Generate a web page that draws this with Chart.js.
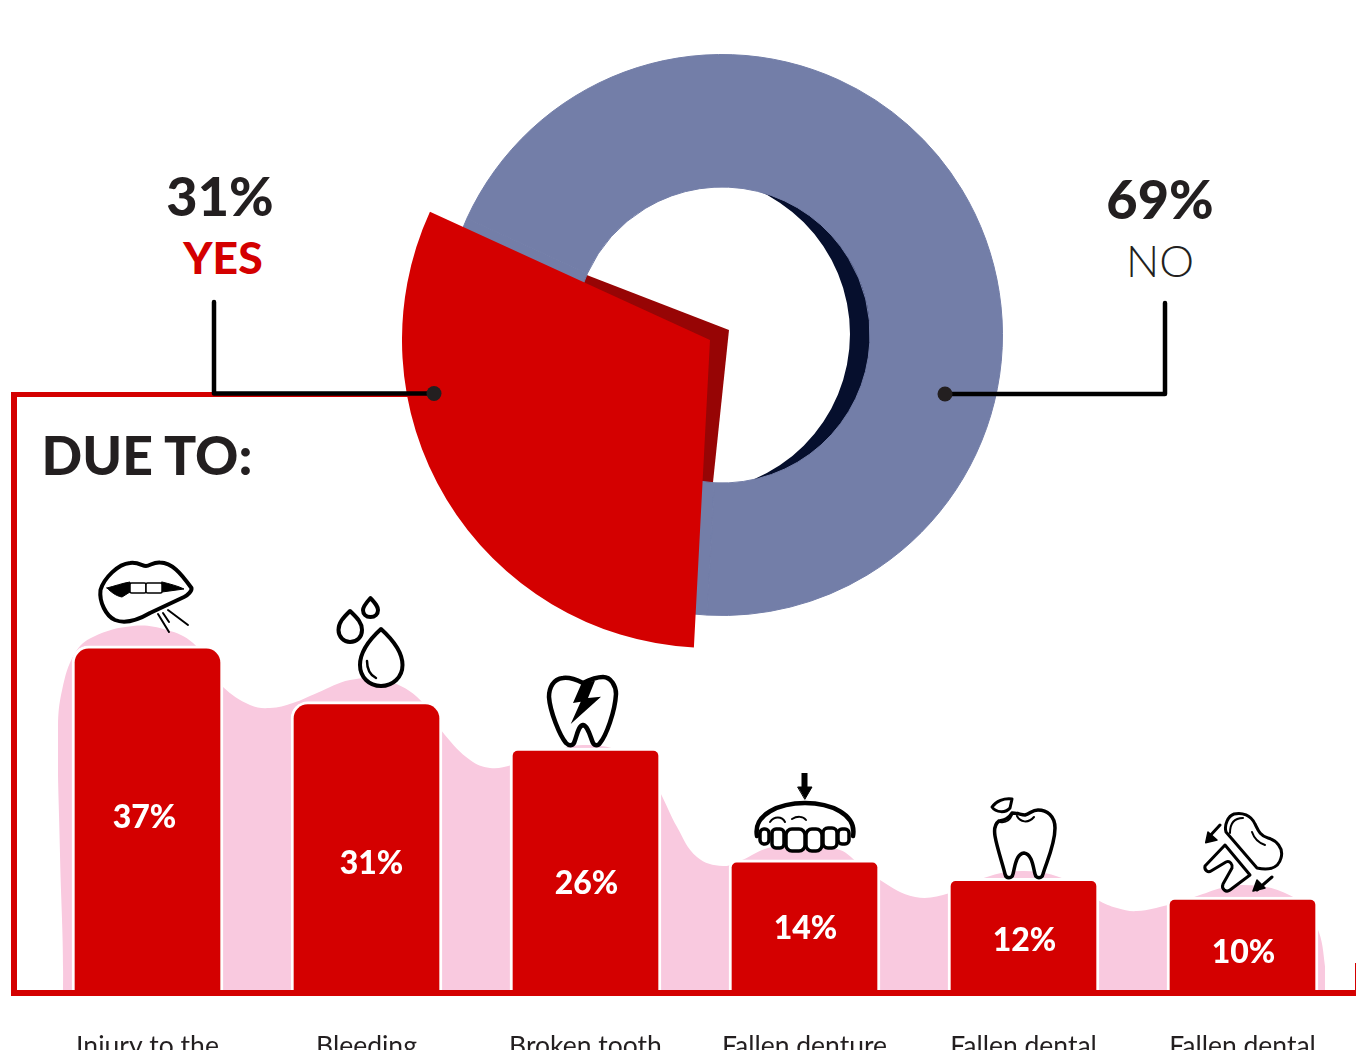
<!DOCTYPE html>
<html>
<head>
<meta charset="utf-8">
<title>Due to</title>
<script src="https://cdn.jsdelivr.net/npm/chart.js@4"></script>
<style>
    html, body { margin: 0; padding: 0; background: #fff; }
    body { position: relative; width: 1356px; height: 1050px; overflow: hidden; font-family: Lato, sans-serif; }
    canvas { position: absolute; }
    .frame { position: absolute; background: #d40000; }
    .note { position: absolute; transform: translate(-50%, -50%); line-height: 1; white-space: nowrap; color: #231f20; font-weight: 900; }
    #overlay { position: absolute; left: 0; top: 0; z-index: 20; }
</style>
</head>
<body>

<div class="frame" style="left:11px;top:392px;width:6px;height:604px"></div>
<div class="frame" style="left:11px;top:392px;width:420px;height:5px"></div>
<div class="frame" style="left:11px;top:990px;width:1345px;height:6px"></div>
<div class="frame" style="left:1355px;top:963px;width:1px;height:27px"></div>

<div class="note" style="left:220px;top:196px;font-size:54px">31%</div>
<div class="note" style="left:223px;top:257px;font-size:44.500px;color:#d40000">YES</div>
<div class="note" style="left:1160px;top:199px;font-size:54px">69%</div>
<div class="note" style="left:1160px;top:260px;font-size:44px;font-weight:300">NO</div>
<div class="note" style="left:147px;top:455px;font-size:53.500px">DUE TO:</div>

<svg id="overlay" width="1356" height="1050" fill="none" stroke="#000" stroke-width="4" stroke-linecap="round" stroke-linejoin="round">
    <!-- leader lines -->
    <path d="M214 302V393.500H434" stroke-width="4.500"/>
    <circle cx="434" cy="393.500" r="7.500" fill="#231f20" stroke="none"/>
    <path d="M945 394H1165V303" stroke-width="4.500"/>
    <circle cx="945" cy="394" r="7.500" fill="#231f20" stroke="none"/>

    <!-- lips -->
    <path d="M191.500 588C180 572 172 563 160 562.500C153 562 150 566 146 566C142 566 139 562 130 563C118 564 104 578 100.500 590C99 602 106 616 115 620C125 624 138 620 150 613L184 597C188 595 192 591 191.500 588Z" fill="#fff"/>
    <path d="M107 588C115 586 123 583 130 582V592L122 597C116 596 111 592 107 588ZM162 582C170 584 178 586 184 589L162 592Z" fill="#000" stroke="#000" stroke-width="1"/>
    <rect x="130" y="583" width="16" height="10" rx="1.500" fill="#fff" stroke-width="1.500"/>
    <rect x="146" y="583" width="16" height="10" rx="1.500" fill="#fff" stroke-width="1.500"/>
    <path d="M158 614L169 632M163 613L169 622M168 610L188 625" stroke-width="2"/>

    <!-- drops -->
    <path d="M370.500 598C366 603 363 607 363 610C363 614 366 617 370.500 617C375 617 378 614 378 610C378 606 375 603 370.500 598Z" fill="#fff"/>
    <path d="M350 611C344 617 338.500 622 338.500 630C338.500 637 344 642 350 642C357 642 362 637 362 630C362 622 356 617 350 611Z" fill="#fff"/>
    <path d="M381 629C370 639 360 652 360 665C360 677 369 686 381 686C393 686 402.500 677 402.500 665C402.500 652 392 639 381 629Z" fill="#fff"/>
    <path d="M367 661C367 669 370 675 376 678" stroke-width="2.500"/>

    <!-- tooth with lightning -->
    <path d="M583 683C577 680 570 677 563 678C553 679 549 688 549 697C550 712 560 736 566 743C569 746 572 746 574 743C577 736 578 726 583 725C588 726 590 736 593 743C595 746 598 746 600 743C606 736 615 712 616 694C616 686 611 677 603 677C596 677 589 680 583 683Z" fill="#fff" stroke-width="4.500"/>
    <path d="M581.700 683L595 680.700L588 698L601 696.700L570.700 724L580.700 701.700L573 703Z" fill="#000" stroke="none"/>

    <!-- denture -->
    <path d="M804.500 773V788" stroke-width="6" stroke-linecap="butt"/>
    <path d="M798 787H812L805 799Z" fill="#000" stroke="#000" stroke-width="1"/>
    <path d="M757 836C753 814 780 803 805 803C830 803 857 814 853 836" fill="#fff" stroke-width="4.500"/>
    <path d="M770 822C774 816 782 816 785 822M792 819C797 816 803 816 806 820" stroke-width="2"/>
    <rect x="760" y="829" width="9" height="15" rx="4" fill="#fff" stroke-width="3.500"/>
    <rect x="772" y="829" width="12" height="19" rx="4" fill="#fff" stroke-width="3.500"/>
    <rect x="786" y="829" width="19" height="22" rx="6" fill="#fff" stroke-width="3.500"/>
    <rect x="806" y="829" width="16" height="22" rx="6" fill="#fff" stroke-width="3.500"/>
    <rect x="823" y="828" width="14" height="20" rx="5" fill="#fff" stroke-width="3.500"/>
    <rect x="838" y="829" width="11" height="15" rx="4" fill="#fff" stroke-width="3.500"/>

    <!-- chipped tooth -->
    <path d="M1012 813C1008 820 1003 820 999 821C995 824 994 830 995 836C997 848 1003 865 1005 874C1006 879 1012 879 1013 874C1015 866 1016 854 1024 853C1032 854 1033 866 1035 874C1036 879 1042 879 1043 874C1046 863 1055 845 1055 828C1055 816 1047 810 1038 810C1032 810 1030 814 1025 815C1021 815 1018 813 1012 813Z" fill="#fff" stroke-width="3.500"/>
    <path d="M1000 822C1006 823 1010 820 1012 815M1017 816C1020 822 1028 824 1034 817" stroke-width="2"/>
    <path d="M1012 799C1004 798 996 801 992 807C996 813 1006 813 1010 808Z" fill="#fff" stroke-width="3"/>

    <!-- broken tooth -->
    <path d="M1226 832L1257 868C1266 870 1278 870 1281 858C1284 848 1276 840 1268 838C1260 836 1258 830 1255 824C1251 815 1242 812 1234 814C1228 816 1224 825 1226 832Z" fill="#fff" stroke-width="3"/>
    <path d="M1225 845L1205 866C1204 870 1208 873 1211 871L1226 862C1230 860 1233 865 1232 868L1223 884C1221 889 1226 893 1230 890L1250 875Z" fill="#fff" stroke-width="3"/>
    <path d="M1230 833C1230 824 1234 818 1243 818M1252 832C1254 838 1259 843 1265 845" stroke-width="2"/>
    <path d="M1220 825L1208 838M1272 877L1257 890" stroke-width="3"/>
    <path d="M1205.700 842.700L1208 832L1217 840ZM1253 891L1257 880L1265 888Z" fill="#000" stroke="#000" stroke-width="1.500"/>
</svg>

<canvas id="blobChart" width="1356" height="600" style="left:0;top:500px"></canvas>
<canvas id="barChart" width="1356" height="600" style="left:0;top:500px"></canvas>

<script>
// Yes / no split
const answerLabels = ['Yes', 'No'];
const answerValues = [31, 69];
const answerShadowValues = [29.2, 70.8];

// Reasons
const categories = ['Injury to the', 'Bleeding', 'Broken tooth', 'Fallen denture', 'Fallen dental', 'Fallen dental'];
const barValues = [37, 31, 26, 14, 12, 10];
const barLabels = ['37%', '31%', '26%', '14%', '12%', '10%'];

// Pink shape behind the bars: category position, then height on the bar scale
const blobX = [-0.409, -0.386, -0.400, -0.409, -0.390, -0.331, -0.249, -0.066, 0.089, 0.208, 0.308, 0.345, 0.468, 0.559, 0.664, 0.774, 0.925, 1.075, 1.231, 1.358, 1.473, 1.564, 1.664, 1.824, 1.989, 2.194, 2.295, 2.340, 2.418, 2.509, 2.628, 2.715, 2.833, 3.002, 3.162, 3.240, 3.345, 3.505, 3.664, 3.744, 4.000, 4.249, 4.340, 4.427, 4.518, 4.660, 4.747, 5.003, 5.249, 5.340, 5.377, 5.377];
const blobY = [0, 0, 15.05, 27.96, 32.26, 36.24, 37.96, 39.14, 38.71, 37.31, 34.19, 32.58, 30.65, 30.32, 30.86, 31.94, 33.33, 33.33, 31.51, 27.42, 24.73, 23.87, 24.19, 25.38, 26.34, 25.38, 23.12, 21.29, 17.53, 14.30, 13.33, 13.98, 15.27, 15.81, 15.05, 13.76, 11.83, 10.00, 10.43, 11.51, 12.80, 11.40, 9.68, 8.82, 8.49, 9.14, 9.78, 11.29, 9.78, 6.77, 2.47, 0];

const RED = '#d40000';
const BLUE = '#737ea8';

// Value text inside each bar: px above the baseline and sideways from bar centre
const labelLift = [172, 126, 106, 61, 49, 37];
const labelShift = [-3, 5, 1, 1, 1, 1];
const barCorners = [17, 17, 8, 8, 8, 8];

Chart.defaults.animation = false;
Chart.defaults.font.family = 'Lato, sans-serif';

// Draw the percentages on top of the bars
const barTextPlugin = {
    id: 'barText',
    afterDatasetsDraw(chart) {
        const ctx = chart.ctx;
        const base = chart.scales.y.getPixelForValue(0);
        ctx.save();
        ctx.fillStyle = '#fff';
        ctx.font = '900 32px Lato, sans-serif';
        ctx.textAlign = 'center';
        ctx.textBaseline = 'middle';
        chart.getDatasetMeta(0).data.forEach((bar, i) => {
            ctx.fillText(barLabels[i], bar.x + labelShift[i], base - labelLift[i]);
        });
        ctx.restore();
    }
};

// Pink shape sits on its own canvas, same plot area as the bars
new Chart(document.getElementById('blobChart').getContext('2d'), {
    type: 'scatter',
    data: {
        datasets: [{
            data: blobX.map((x, i) => ({ x: x, y: blobY[i] })),
            showLine: true,
            fill: 'start',
            backgroundColor: '#f9c9df',
            borderWidth: 0,
            pointRadius: 0,
            tension: 0.4
        }]
    },
    options: {
        responsive: false,
        layout: { padding: { left: 38, right: 4, top: 25, bottom: 110 } },
        plugins: { legend: { display: false }, tooltip: { enabled: false } },
        scales: {
            x: { type: 'linear', display: false, min: -0.5, max: 5.5 },
            y: { display: false, min: 0, max: 50 }
        }
    }
});

new Chart(document.getElementById('barChart').getContext('2d'), {
    type: 'bar',
    data: {
        labels: categories,
        datasets: [{
            data: barValues,
            backgroundColor: RED,
            borderColor: '#fff',
            borderWidth: 3,
            borderSkipped: 'bottom',
            borderRadius: ctx => barCorners[ctx.dataIndex],
            barThickness: 151
        }]
    },
    options: {
        responsive: false,
        layout: { padding: { left: 38, right: 4, top: 25, bottom: 0 } },
        plugins: { legend: { display: false }, tooltip: { enabled: false } },
        scales: {
            x: {
                grid: { display: false },
                border: { display: false },
                afterFit: scale => { scale.height = 110; },
                ticks: {
                    autoSkip: false,
                    maxRotation: 0,
                    padding: 33,
                    color: '#231f20',
                    font: { size: 26.5 }
                }
            },
            y: { display: false, min: 0, max: 50 }
        }
    },
    plugins: [barTextPlugin]
});

// One layer of the doughnut, placed by its centre
function addPie(cx, cy, radius, cutout, values, colors, rotation, z, border) {
    const canvas = document.createElement('canvas');
    canvas.width = radius * 2;
    canvas.height = radius * 2;
    canvas.style.left = (cx - radius) + 'px';
    canvas.style.top = (cy - radius) + 'px';
    canvas.style.zIndex = z;
    document.body.appendChild(canvas);
    new Chart(canvas.getContext('2d'), {
        type: 'doughnut',
        data: {
            labels: values.length > 1 ? answerLabels : ['Hole'],
            datasets: [{
                data: values,
                backgroundColor: colors,
                borderWidth: border ? 1 : 0,
                borderColor: colors
            }]
        },
        options: {
            responsive: false,
            cutout: cutout,
            rotation: rotation,
            plugins: { legend: { display: false }, tooltip: { enabled: false } }
        }
    });
}

addPie(722, 335, 150, 0, [100], ['#060f2d'], 0, 2);
addPie(692, 334, 158, 0, [100], ['#fff'], 0, 3);
addPie(729, 330, 165, 0, answerShadowValues, ['#970505', 'rgba(0,0,0,0)'], 186, 4);
addPie(722, 335, 281, 148, answerValues, [BLUE, BLUE], 183, 5, true);
addPie(710, 340, 308, 0, answerValues, [RED, 'rgba(0,0,0,0)'], 183, 6);
</script>
</body>
</html>
